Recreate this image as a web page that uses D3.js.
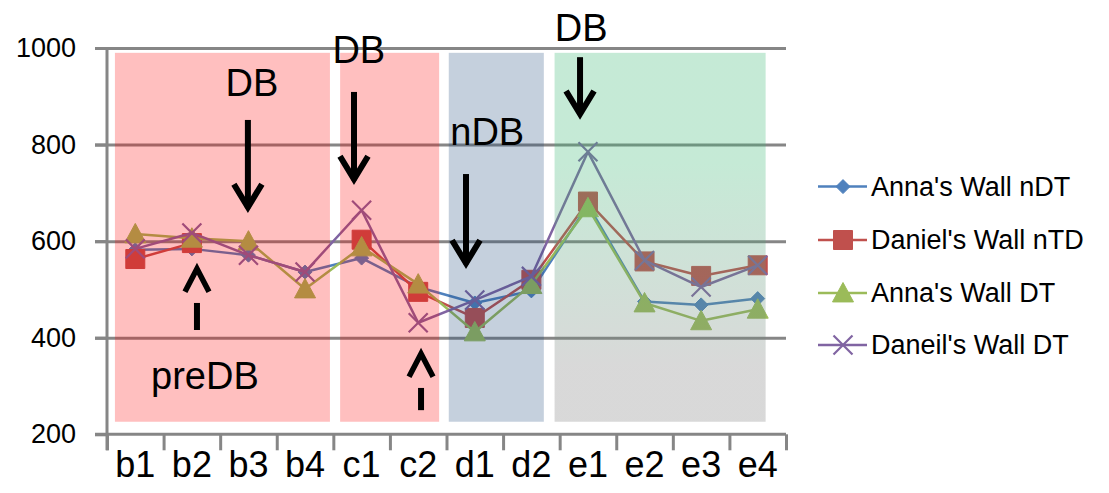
<!DOCTYPE html>
<html>
<head>
<meta charset="utf-8">
<script src="https://cdn.jsdelivr.net/npm/d3@7/dist/d3.min.js"></script>
<style>
  html, body { margin: 0; padding: 0; background: #ffffff; }
  svg { display: block; }
  text { font-family: "Liberation Sans", Arial, sans-serif; }
</style>
</head>
<body>
<svg id="chart" width="1109" height="493"></svg>
<script>
// Categories along the x axis
const categories = ["b1", "b2", "b3", "b4", "c1", "c2", "d1", "d2", "e1", "e2", "e3", "e4"];

// Series values, one per category (null = no reading)
const annaNDT   = [582, 584, 571, 536, 565, 505, 472, 497, 675, 475, 468, 481];
const danielNTD = [563, 596, null, null, 603, 495, 441, 520, 682, 558, 528, 550];
const annaDT    = [615, 606, 600, 501, 588, 511, 412, 510, 669, 472, 435, 459];
const daneilDT  = [584, 617, 571, 536, 664, 431, 478, 527, 785, 560, 505, 550];

const seriesNames = ["Anna's Wall nDT", "Daniel's Wall nTD", "Anna's Wall DT", "Daneil's Wall DT"];

// Y axis tick values
const yTicks = [200, 400, 600, 800, 1000];

// Shaded phases: start/end in category slots, top/bottom in value units
const phaseStart = [0.14, 4.12, 6.04, 7.91];
const phaseEnd   = [3.94, 5.87, 7.72, 11.64];
const phaseTop   = 990;
const phaseBottom = 226;

// Annotation labels (x in category slots, y in value units)
const noteText = ["DB", "DB", "nDB", "DB", "preDB"];
const noteX    = [2.56, 4.45, 6.72, 8.38, 1.73];
const noteY    = [900, 969, 799, 1015, 294];

// Down arrows: x slot, tail value, tip value
const downX    = [2.49, 4.365, 6.345, 8.36];
const downFrom = [851, 909, 739, 981];
const downTo   = [662, 720, 546, 855];

// Up arrows (head and detached shaft): x slot, tip value, shaft top, shaft bottom
const upX        = [1.59, 5.55];
const upTip      = [551, 375];
const upShaftTop = [472, 296];
const upShaftBot = [416, 250];

const svg = d3.select("#chart");

const plotLeft = 107, plotRight = 786, plotTop = 48, plotBottom = 434.3;

const xBand = d3.scaleBand().domain(categories).range([plotLeft, plotRight]).padding(0);
const xSlot = d3.scaleLinear().domain([0, categories.length]).range([plotLeft, plotRight]);
const y = d3.scaleLinear().domain([200, 1000]).range([plotBottom, plotTop]);
const cx = c => xBand(c) + xBand.bandwidth() / 2;

const axisColor = "#868686";

// Horizontal gridlines
const grid = svg.append("g")
  .attr("transform", `translate(95,0)`)
  .call(d3.axisRight(y).tickValues(yTicks.filter(v => v > 200)).tickSize(plotRight - 95).tickFormat(""));
grid.select(".domain").remove();
grid.selectAll("line").attr("stroke", axisColor).attr("stroke-width", 3);

// Y axis with labels
const yAxis = svg.append("g")
  .attr("transform", `translate(${plotLeft},0)`)
  .call(d3.axisLeft(y).tickValues(yTicks).tickSize(12).tickPadding(19).tickFormat(d3.format("d")));
yAxis.select(".domain").attr("stroke", axisColor).attr("stroke-width", 3)
  .attr("d", `M0,${plotTop}V${plotBottom + 16}`);
yAxis.selectAll("line").attr("stroke", axisColor).attr("stroke-width", 3);
yAxis.selectAll("text").attr("font-size", 27).attr("fill", "#000");

// X axis line and tick marks at category boundaries
const xTicks = svg.append("g")
  .attr("transform", `translate(0,${plotBottom})`)
  .call(d3.axisBottom(xSlot).tickValues(d3.range(categories.length + 1)).tickSize(16).tickFormat(""));
xTicks.select(".domain").attr("stroke", axisColor).attr("stroke-width", 3)
  .attr("d", `M95,0H${plotRight}`);
xTicks.selectAll("line").attr("stroke", axisColor).attr("stroke-width", 3);

// Category labels
const xLabels = svg.append("g")
  .attr("transform", `translate(0,${plotBottom})`)
  .call(d3.axisBottom(xBand).tickSize(0).tickPadding(17));
xLabels.select(".domain").remove();
xLabels.selectAll("text").attr("font-size", 36).attr("fill", "#000");

// Marker shapes
const markerPath = {
  diamond: s => `M0,${-s}L${s},0L0,${s}L${-s},0Z`,
  square: s => `M${-s},${-s}H${s}V${s}H${-s}Z`,
  triangle: s => `M0,${-s}L${s},${s * 0.85}L${-s},${s * 0.85}Z`,
  cross: s => `M${-s},${-s}L${s},${s}M${s},${-s}L${-s},${s}`
};

const series = [
  { name: seriesNames[0], values: annaNDT,   color: "#4f81bd", marker: "diamond",  size: 7 },
  { name: seriesNames[1], values: danielNTD, color: "#c0504d", marker: "square",   size: 9.5 },
  { name: seriesNames[2], values: annaDT,    color: "#9bbb59", marker: "triangle", size: 10.5 },
  { name: seriesNames[3], values: daneilDT,  color: "#8064a2", marker: "cross",    size: 9.5 }
];

const line = d3.line()
  .defined(d => d.v != null)
  .x(d => cx(d.cat)).y(d => y(d.v));

function drawMarker(sel, s) {
  const p = sel.append("path").attr("d", markerPath[s.marker](s.size));
  if (s.marker === "cross") {
    p.attr("fill", "none").attr("stroke", s.color).attr("stroke-width", 2.2);
  } else {
    p.attr("fill", s.color).attr("stroke", s.color).attr("stroke-width", 1);
  }
}

const plot = svg.append("g");
series.forEach(s => {
  const pts = s.values.map((v, i) => ({ cat: categories[i], v }));
  const g = plot.append("g");
  g.append("path").datum(pts)
    .attr("d", line).attr("fill", "none")
    .attr("stroke", s.color).attr("stroke-width", 2.5).attr("stroke-linejoin", "round");
  g.selectAll("g.pt").data(pts.filter(d => d.v != null)).enter().append("g")
    .attr("class", "pt")
    .attr("transform", d => `translate(${cx(d.cat)},${y(d.v)})`)
    .each(function () { drawMarker(d3.select(this), s); });
});

// Translucent phase panels laid over the plot
const defs = svg.append("defs");
const grad = defs.append("linearGradient").attr("id", "phaseGreen")
  .attr("x1", 0).attr("y1", 0).attr("x2", 0).attr("y2", 1);
grad.append("stop").attr("offset", "0%").attr("stop-color", "rgb(62,185,118)").attr("stop-opacity", 0.3);
grad.append("stop").attr("offset", "30%").attr("stop-color", "rgb(62,185,118)").attr("stop-opacity", 0.3);
grad.append("stop").attr("offset", "85%").attr("stop-color", "rgb(127,127,127)").attr("stop-opacity", 0.3);
grad.append("stop").attr("offset", "100%").attr("stop-color", "rgb(127,127,127)").attr("stop-opacity", 0.3);

const phaseFill = ["rgba(255,0,0,0.25)", "rgba(255,0,0,0.25)", "rgba(31,73,125,0.26)", "url(#phaseGreen)"];
svg.append("g").selectAll("rect").data(phaseStart).enter().append("rect")
  .attr("x", (d, i) => xSlot(d))
  .attr("width", (d, i) => xSlot(phaseEnd[i]) - xSlot(d))
  .attr("y", y(phaseTop))
  .attr("height", y(phaseBottom) - y(phaseTop))
  .attr("fill", (d, i) => phaseFill[i]);

// Annotations
const notes = svg.append("g");
notes.selectAll("text").data(noteText).enter().append("text")
  .attr("x", (d, i) => xSlot(noteX[i]))
  .attr("y", (d, i) => y(noteY[i]))
  .attr("text-anchor", "middle")
  .attr("font-size", 38)
  .attr("fill", "#000")
  .text(d => d);

downX.forEach((sx, i) => {
  const x = xSlot(sx), y0 = y(downFrom[i]), y1 = y(downTo[i]);
  notes.append("line").attr("x1", x).attr("x2", x).attr("y1", y0).attr("y2", y1 - 3)
    .attr("stroke", "#000").attr("stroke-width", 6);
  notes.append("path").attr("d", `M${x - 14},${y1 - 27}L${x},${y1 - 4}L${x + 14},${y1 - 27}`)
    .attr("fill", "none").attr("stroke", "#000").attr("stroke-width", 6).attr("stroke-linejoin", "miter");
});

upX.forEach((sx, i) => {
  const x = xSlot(sx), tip = y(upTip[i]);
  notes.append("path").attr("d", `M${x - 12},${tip + 27}L${x},${tip + 4}L${x + 12},${tip + 27}`)
    .attr("fill", "none").attr("stroke", "#000").attr("stroke-width", 5.5).attr("stroke-linejoin", "miter");
  notes.append("line").attr("x1", x).attr("x2", x)
    .attr("y1", y(upShaftTop[i])).attr("y2", y(upShaftBot[i]))
    .attr("stroke", "#000").attr("stroke-width", 6);
});

// Legend
const legendY = [186.6, 240, 293, 345];
const legend = svg.append("g");
series.forEach((s, i) => {
  const g = legend.append("g").attr("transform", `translate(843,${legendY[i]})`);
  g.append("line").attr("x1", -25).attr("x2", 24).attr("stroke", s.color).attr("stroke-width", 2.5);
  drawMarker(g, s);
  g.append("text").attr("x", 28).attr("dy", "0.35em")
    .attr("font-size", 27).attr("fill", "#000").text(s.name);
});
</script>
</body>
</html>
